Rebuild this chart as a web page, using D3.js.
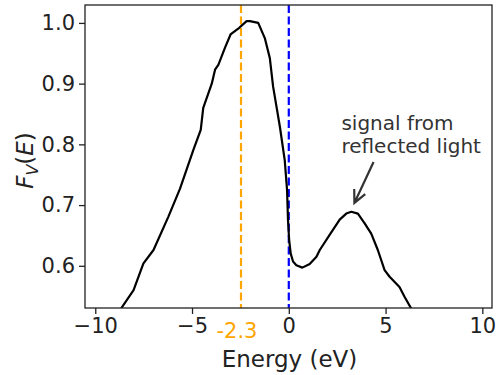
<!DOCTYPE html>
<html>
<head>
<meta charset="utf-8">
<script src="https://cdn.jsdelivr.net/npm/d3@7"></script>
<style>
  html, body { margin: 0; padding: 0; background: #fff; }
  svg { display: block; font-family: "DejaVu Sans", sans-serif; }
</style>
</head>
<body>
<svg id="chart" width="500" height="375"></svg>
<script>
// ---- data ----
const energy = [-8.66, -8.02, -7.64, -7.51, -6.99, -6.22, -5.62, -4.93, -4.55, -4.42, -3.98, -3.81, -3.64, -3.30, -3.01, -2.56, -2.18, -2.01, -1.58, -1.24, -0.98, -0.81, -0.46, -0.21, -0.09, -0.04, 0.02, 0.10, 0.22, 0.39, 0.70, 1.08, 1.43, 1.60, 2.11, 2.63, 2.97, 3.23, 3.57, 3.92, 4.26, 4.60, 4.95, 5.21, 5.72, 5.98, 6.32];
const fv     = [0.530, 0.560, 0.593, 0.604, 0.626, 0.681, 0.727, 0.791, 0.824, 0.860, 0.900, 0.923, 0.931, 0.959, 0.981, 0.992, 1.003, 1.003, 1.000, 0.975, 0.942, 0.895, 0.829, 0.774, 0.725, 0.675, 0.642, 0.620, 0.607, 0.601, 0.597, 0.603, 0.615, 0.626, 0.651, 0.676, 0.686, 0.689, 0.686, 0.670, 0.653, 0.626, 0.593, 0.582, 0.565, 0.549, 0.530];
const xTicks = [-10, -5, 0, 5, 10];
const yTicks = [0.6, 0.7, 0.8, 0.9, 1.0];
const peakLine = -2.47;       // orange dashed line position
const peakLabel = "-2.3";     // its label
const zeroLine = 0;           // blue dashed line
const annotationLines = ["signal from", "reflected light"];
const annotationText = [2.72, 0.824];  // data coords of text (left, first baseline)
const arrowFrom = [4.38, 0.771];
const arrowTo = [3.39, 0.7035];

// ---- layout ----
const svg = d3.select("#chart");
const L = 85, R = 492, T = 5, B = 308;
const x = d3.scaleLinear().domain([-10.53, 10.5]).range([L, R]);
const y = d3.scaleLinear().domain([0.5305, 1.0295]).range([B, T]);

svg.append("defs").append("clipPath").attr("id", "clip")
  .append("rect").attr("x", L).attr("y", T).attr("width", R - L).attr("height", B - T);

const plot = svg.append("g").attr("clip-path", "url(#clip)");

// vertical dashed lines
plot.append("line")
  .attr("x1", x(peakLine)).attr("x2", x(peakLine))
  .attr("y1", T).attr("y2", B)
  .attr("stroke", "orange").attr("stroke-width", 2.2)
  .attr("stroke-dasharray", "8,3.5");
plot.append("line")
  .attr("x1", x(zeroLine)).attr("x2", x(zeroLine))
  .attr("y1", T).attr("y2", B)
  .attr("stroke", "#0000ff").attr("stroke-width", 2.2)
  .attr("stroke-dasharray", "8,3.5");

// curve
plot.append("path")
  .datum(energy.map((e, i) => [e, fv[i]]))
  .attr("fill", "none").attr("stroke", "#000").attr("stroke-width", 2.2)
  .attr("stroke-linejoin", "round")
  .attr("d", d3.line().x(d => x(d[0])).y(d => y(d[1])));

// axes
const xAxis = svg.append("g").attr("transform", `translate(0,${B})`)
  .call(d3.axisBottom(x).tickValues(xTicks).tickSize(6).tickPadding(4)
    .tickFormat(d => d3.format("d")(d).replace("-", "\u2212")));
const yAxis = svg.append("g").attr("transform", `translate(${L},0)`)
  .call(d3.axisLeft(y).tickValues(yTicks).tickSize(6).tickPadding(4)
    .tickFormat(d3.format(".1f")));
[xAxis, yAxis].forEach(g => {
  g.select(".domain").remove();
  g.selectAll("line").attr("stroke", "#222").attr("stroke-width", 1.3);
  g.selectAll("text").attr("fill", "#222").style("font-size", "21px")
    .style("font-family", "'DejaVu Sans', sans-serif");
});

// frame
svg.append("rect").attr("x", L).attr("y", T).attr("width", R - L).attr("height", B - T)
  .attr("fill", "none").attr("stroke", "#222").attr("stroke-width", 1.3);

// orange label
svg.append("text")
  .attr("x", x(peakLine) - 4).attr("y", B + 30)
  .attr("text-anchor", "middle").attr("fill", "orange")
  .style("font-size", "21px").text(peakLabel);

// axis labels
svg.append("text")
  .attr("x", (L + R) / 2 + 1).attr("y", 367)
  .attr("text-anchor", "middle").attr("fill", "#222")
  .style("font-size", "23px").text("Energy (eV)");

const yl = svg.append("text")
  .attr("transform", `translate(33,${(T + B) / 2 + 4}) rotate(-90)`)
  .attr("text-anchor", "middle").attr("fill", "#222")
  .style("font-size", "23px");
yl.append("tspan").style("font-style", "italic").text("F");
yl.append("tspan").style("font-style", "italic").style("font-size", "16px").attr("dy", 5).text("V");
yl.append("tspan").attr("dy", -5).text("(");
yl.append("tspan").style("font-style", "italic").text("E");
yl.append("tspan").text(")");

// annotation
const ann = svg.append("text").attr("fill", "#333").style("font-size", "20px");
annotationLines.forEach((s, i) => {
  ann.append("tspan").attr("x", x(annotationText[0])).attr("y", y(annotationText[1]) + i * 23.5).text(s);
});
// arrow
const ax0 = x(arrowFrom[0]), ay0 = y(arrowFrom[1]), ax1 = x(arrowTo[0]), ay1 = y(arrowTo[1]);
const ang = Math.atan2(ay1 - ay0, ax1 - ax0);
const hl = 14, ha = 0.45;
svg.append("path")
  .attr("d", `M${ax0},${ay0}L${ax1},${ay1}` +
    `M${ax1 - hl * Math.cos(ang - ha)},${ay1 - hl * Math.sin(ang - ha)}L${ax1},${ay1}` +
    `L${ax1 - hl * Math.cos(ang + ha)},${ay1 - hl * Math.sin(ang + ha)}`)
  .attr("fill", "none").attr("stroke", "#333").attr("stroke-width", 2.2)
  .attr("stroke-linejoin", "miter");
</script>
</body>
</html>
